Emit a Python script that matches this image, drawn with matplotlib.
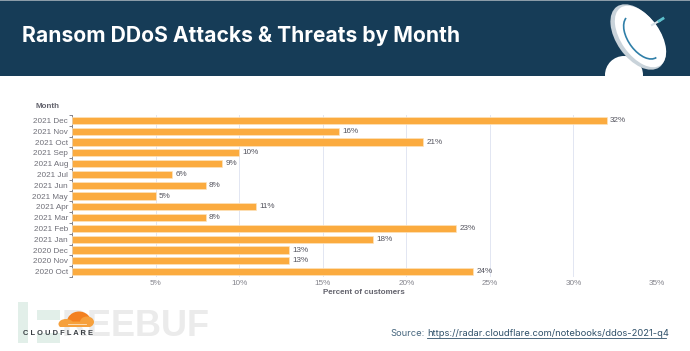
import matplotlib
matplotlib.use('Agg')
import matplotlib.pyplot as plt
from matplotlib.patches import Ellipse, Rectangle, Circle, Arc

months = ['2021 Dec', '2021 Nov', '2021 Oct', '2021 Sep', '2021 Aug', '2021 Jul', '2021 Jun', '2021 May',
          '2021 Apr', '2021 Mar', '2021 Feb', '2021 Jan', '2020 Dec', '2020 Nov', '2020 Oct']
percent = [32, 16, 21, 10, 9, 6, 8, 5, 11, 8, 23, 18, 13, 13, 24]
x_ticks = [5, 10, 15, 20, 25, 30, 35]

W, H = 690, 351
plain = ['Liberation Sans', 'DejaVu Sans']
plt.rcParams['font.family'] = ['Inter', 'Liberation Sans', 'DejaVu Sans']

fig = plt.figure(figsize=(W / 100, H / 100), dpi=100)

# 整张图的像素坐标层，用来画标题栏和图标
bg = fig.add_axes([0, 0, 1, 1])
bg.set_xlim(0, W)
bg.set_ylim(H, 0)
bg.axis('off')

bg.add_patch(Rectangle((0, 0), W, 76, color='#163c57', lw=0))
bg.add_patch(Rectangle((0, 0), W, 1, color='#8b9ca8', lw=0))
bg.text(22, 36, 'Ransom DDoS Attacks & Threats by Month', color='white', fontsize=15.15,
        fontweight='bold', va='center', ha='left')

# 卫星天线
base = Rectangle((0, 0), W, 76, transform=bg.transData)
c = Circle((624, 75), 19, color='white', lw=0)
bg.add_patch(c)
c.set_clip_path(base)
bg.add_patch(Ellipse((638, 37), 43, 74, angle=-35, color='#c9d3da', lw=0))
bg.add_patch(Ellipse((640.5, 36.5), 39, 70, angle=-35, color='white', lw=0))
bg.add_patch(Arc((642, 37), 28, 50, angle=-35, theta1=90, theta2=265, ec='#2f7fa8', lw=1.2))
bg.plot([652, 660], [25, 20.5], color='#d8e2e8', lw=1.5)
bg.plot([659, 663], [21, 18.5], color='#5cc0cc', lw=2)

# 水印
bg.add_patch(Rectangle((18, 302), 10, 41, color='#e2efe9', lw=0))
bg.add_patch(Rectangle((37, 310), 23, 10, color='#e2efe9', lw=0))
bg.add_patch(Rectangle((37, 333), 23, 10, color='#e2efe9', lw=0))
bg.text(62, 327, 'REEBUF', color='#ebebeb', fontsize=26, fontweight='bold', va='center', ha='left',
        family=plain, zorder=2)

# logo
flat = Rectangle((0, 0), W, 327, transform=bg.transData)
for xy, w, h, col in [((79, 322), 24, 21, '#f38020'),
                      ((66, 324), 15, 10, '#f6a03c'),
                      ((87, 322), 14, 11, '#f6a03c'),
                      ((76, 325), 30, 7, '#f6a03c')]:
    e = Ellipse(xy, w, h, color=col, lw=0, zorder=4)
    bg.add_patch(e)
    e.set_clip_path(flat)
bg.plot([68, 86], [324, 324], color='#fde5c8', lw=0.6, zorder=5)
bg.text(58, 333.5, 'C L O U D F L A R E', color='#3a3f44', fontsize=5.4, fontweight='bold', va='center', ha='center',
        family=plain, zorder=5)

# 来源
bg.text(390, 333, 'Source:', color='#47677f', fontsize=6.75, va='center', ha='left')
bg.text(427, 333, 'https://radar.cloudflare.com/notebooks/ddos-2021-q4', color='#2f5069', fontsize=6.75,
        va='center', ha='left')
bg.plot([427, 666], [338, 338], color='#2f5069', lw=0.6)

# 柱状图，x: 0% 在 72px，35% 在 657px
left, right = 72, 657
top, bottom = 115, 277
ax = fig.add_axes([left / W, 1 - bottom / H, (right - left) / W, (bottom - top) / H])
ax.patch.set_alpha(0)
ypos = list(range(len(months)))
ax.barh(ypos, percent, height=0.68, color='#fbab3f', edgecolor='#fde3bd', linewidth=0.5, zorder=3)
ax.set_xlim(0, 35)
ax.set_ylim(len(months) - 0.5, -0.5)
for y, v in zip(ypos, percent):
    ax.text(v + 0.2, y, f'{v}%', fontsize=5.9, color='#55555f', va='center', ha='left', zorder=4, family=plain)

ax.set_xticks(x_ticks)
ax.set_xticklabels([f'{t}%' for t in x_ticks], family=plain)
ax.tick_params(axis='x', length=0, labelsize=5.9, labelcolor='#85858d', pad=2.5)
ax.grid(axis='x', color='#e2e6f2', lw=0.7, zorder=0)
ax.set_yticks([i - 0.5 for i in range(len(months) + 1)])
ax.set_yticklabels([])
ax.set_yticks(ypos, minor=True)
ax.set_yticklabels(months, minor=True, family=plain)
ax.tick_params(axis='y', which='major', length=2.5, width=0.7, color='#85858d')
ax.tick_params(axis='y', which='minor', length=0, labelsize=5.9, labelcolor='#6f6f78', pad=2.8)
for s in ['top', 'right', 'bottom']:
    ax.spines[s].set_visible(False)
ax.spines['left'].set_color('#85858d')
ax.spines['left'].set_linewidth(0.7)

bg.text(35, 107, 'Month', fontsize=5.8, fontweight='bold', color='#63636d', va='center', ha='left', family=plain)
bg.text(364, 293, 'Percent of customers', fontsize=5.8, fontweight='bold', color='#63636d', va='center', ha='center',
        family=plain)

fig.savefig('out.png', dpi=100)
